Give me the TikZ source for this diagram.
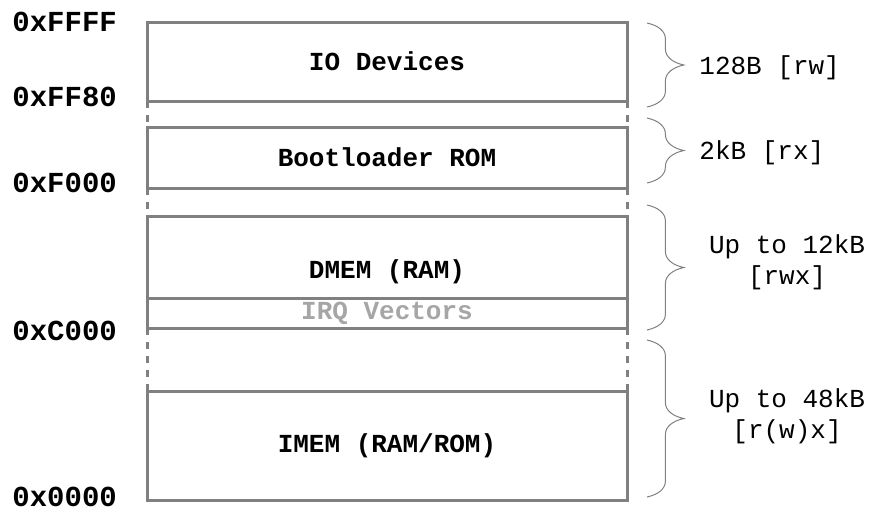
\documentclass[tikz,border=0pt]{standalone}
\usepackage{fontspec}
\setmonofont{Liberation Mono}
\usepackage{tikz}
\usetikzlibrary{decorations.pathreplacing}
\tikzstyle{memregion}=[draw=gray,line width=1.5pt,rectangle,minimum width=240pt,inner sep=0pt,outer sep=0pt,font=\fontsize{13}{15}\selectfont\ttfamily\bfseries]
\tikzstyle{addr}=[anchor=west,inner sep=0pt,font=\fontsize{14.5}{17}\selectfont\ttfamily\bfseries]
\tikzstyle{sizelbl}=[inner sep=0pt,align=center,font=\fontsize{13}{15.5}\selectfont\ttfamily]
\tikzstyle{gapline}=[draw=gray,line width=1.5pt,dash pattern=on 3.5pt off 3.5pt]
\tikzstyle{sizebrace}=[draw=gray,line width=0.5pt,decorate,decoration={brace,amplitude=8pt,transform={yscale=2.3}}]

\begin{document}
\begin{tikzpicture}[x=0.5pt,y=-0.5pt]
	\useasboundingbox (0,0) rectangle (870,511);
	% memory regions
	\node[memregion,minimum height=39.5pt] (io) at (387,61.5) {IO Devices};
	\node[memregion,minimum height=30.5pt] (boot) at (387,157.5) {Bootloader ROM};
	\node[memregion,minimum height=56pt] (dmem) at (387,272) {DMEM (RAM)};
	\node[memregion,minimum height=15pt,text=black!35] (irq) at (387,313) {IRQ Vectors};
	\node[memregion,minimum height=54.5pt] (imem) at (387,445.5) {IMEM (RAM/ROM)};
	
	\draw[gapline] (io.south west) -- (boot.north west);
	\draw[gapline] (io.south east) -- (boot.north east);
	\draw[gapline] (boot.south west) -- (dmem.north west);
	\draw[gapline] (boot.south east) -- (dmem.north east);
	\draw[gapline] (dmem.south west) -- (imem.north west);
	\draw[gapline] (dmem.south east) -- (imem.north east);
	
	% addresses
	\node[addr] (aFFFF) at (12,22) {0xFFFF};
	\node[addr] (aFF80) at (12,97) {0xFF80};
	\node[addr] (aF000) at (12,183) {0xF000};
	\node[addr] (aC000) at (12,331) {0xC000};
	\node[addr] (a0000) at (12,497) {0x0000};
	
	% sizes
	\draw[sizebrace] (647,23) -- (647,107);
	\draw[sizebrace] (647,118) -- (647,183);
	\draw[sizebrace] (647,205) -- (647,330);
	\draw[sizebrace] (647,340) -- (647,497);
	\node[sizelbl,anchor=west] (sio) at (699,68) {128B [rw]};
	\node[sizelbl,anchor=west] (sboot) at (699,153) {2kB [rx]};
	\node[sizelbl] (sdmem) at (787,262) {Up to 12kB\\{[rwx]}};
	\node[sizelbl] (simem) at (787,416) {Up to 48kB\\{[r(w)x]}};
\end{tikzpicture}
\end{document}
